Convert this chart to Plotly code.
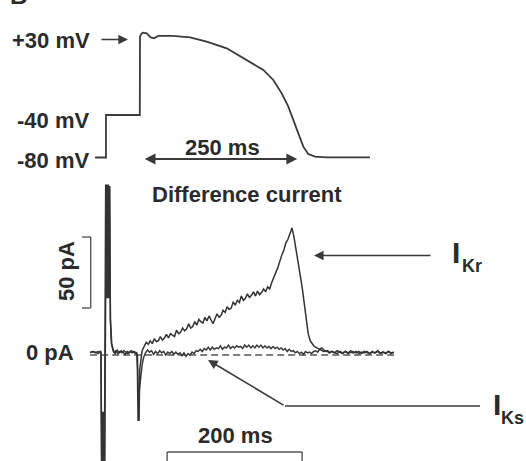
import plotly.graph_objects as go

W, H = 526, 461

# ---------------- Voltage protocol (top) : time in ms, voltage in mV
v_time = [-3.2, 14.6, 14.6, 69.5, 69.8, 72.0, 74.2, 80.7, 87.2, 92.5, 99.5, 123.4, 151.0,
          178.0, 210.6, 243.0, 270.0, 286.2, 299.8, 310.6, 318.7, 326.8, 334.9, 343.0,
          353.9, 372.9, 443.2]
v_mv = [-80, -80, -40, -40, 33.7, 36.5, 37.5, 36.9, 33.1, 32.2, 34.4, 34.4, 33.1,
        29.0, 22.8, 11.8, 2.4, -7.0, -19.6, -32.2, -44.7, -57.2, -69.8, -76.7,
        -79.2, -79.8, -79.8]

# ---------------- Difference currents (bottom): time in ms, current in pA
ikr_time = [-22, -18, -14, -10, -7, -6, -5, -4, -3, -2, -1, 0, 1, 2, 3, 4, 5, 6, 7, 8, 9.5,
            12, 15, 18, 21, 24, 27,
            30, 33, 36, 39, 42, 45, 47, 48, 49, 50.5, 51.5, 53, 55, 58, 61, 64, 67, 70,
            73, 76, 79, 82, 85, 88, 91, 94, 97, 100, 103, 106, 109, 112, 115, 118, 121,
            124, 127, 130, 133, 136, 139, 142, 145, 148, 151, 154, 157, 160, 163, 166,
            169, 172, 175, 178, 181, 184, 187, 190, 193, 196, 199, 202, 205, 208, 211,
            214, 217, 220, 223, 226, 229, 232, 235, 238, 241, 244, 247, 250, 253, 256,
            259, 262, 265, 268, 271, 274, 277, 280, 283, 286, 289, 292, 295, 298, 301,
            304, 307, 310, 314, 318, 321, 324, 328, 332, 336, 340, 344, 348, 352, 356,
            360, 364, 368, 372, 376, 380, 384, 388, 392, 396, 400, 404, 408, 412, 416,
            420, 424, 428]
ikr_pa = [2, 2.5, 1.5, 2.5, 2, 2, -95, -40, -95, -40, -95, 5, 120, 40, 120, 40, 120, 40, 119, 25, 8,
          3, 1, 3.5, 1.5, 3, 2,
          0.5, 2.5, 1.5, 3, 2, 1, 2, -10, -46, -46, -10, -2, 3, 6, 9, 7.5, 10, 8,
          11.5, 9.5, 10, 13, 10.5, 12, 14.5, 12, 15, 14, 13, 17.5, 15, 16, 19, 17, 18.5,
          22, 19, 20, 23.5, 21, 25, 23.5, 22.5, 26.5, 24, 27.5, 24.5, 22, 25.5, 29,
          26.5, 28, 31.5, 30, 34, 32, 33, 37.5, 35, 38.5, 37, 41.5, 38.5, 40, 43,
          40.5, 42, 44.5, 41.5, 45, 42.5, 44, 46.5, 44.5, 48, 46.5, 51, 54, 58, 61.5,
          67, 70.5, 74, 79, 81.5, 86, 89.5, 83, 75, 67, 58, 48, 37, 25, 15,
          10, 7.5, 6, 5, 4, 3, 2.5, 3, 1.5, 2.5, 1.5, 3, 2, 1, 2.5,
          1.5, 3, 2, 1.5, 2.5, 1, 2.5, 2, 1, 2.5, 1.5, 3, 1.5, 2, 1,
          2.5, 1.5, 2]

iks_time = [-22, -18, -14, -10, -7, -6, -4.5, -0.5, 0.5, 2, 6.5, 8, 10, 13, 16, 19, 22, 25,
            28, 31, 34, 37, 40, 43, 46, 48, 49.5, 51, 53, 55, 57, 60, 63, 66, 69, 72, 75,
            78, 81, 84, 87, 90, 93, 96, 99, 102, 105, 108, 111, 114, 117, 120, 123, 126,
            129, 132, 135, 138, 141, 144, 147, 150, 153, 156, 159, 162, 165, 168, 171,
            174, 177, 180, 183, 186, 189, 192, 195, 198, 201, 204, 207, 210, 213, 216,
            219, 222, 225, 228, 231, 234, 237, 240, 243, 246, 249, 252, 255, 258, 261,
            264, 267, 270, 273, 276, 279, 282, 285, 288, 291, 294, 297, 300, 303, 306,
            309, 312, 315, 318, 321, 324, 327, 330, 333, 336, 340, 344, 348, 352, 356,
            360, 364, 368, 372, 376, 380, 384, 388, 392, 396, 400, 404, 408, 412, 416,
            420, 424, 428]
iks_pa = [1.5, 2.5, 2, 1, 2.5, 2, -95, -95, 4, 118, 118, 25, 8, 2, 3, 1, 2.5, 1.5,
          3, 2, 1, 2.5, 1.5, 2.5, 1.5, 0, -32, -24, -14, -7, -2, 1.5, 3.5, 2, 3, 0.5, 2.5,
          1, 3, 1.5, 2.5, 0, 2, 1, 2.5, 0.5, 2, 0.5, 1.5, -0.5, 1.5, -1, 1, 0,
          2, 1, 3, 2.5, 4, 2.5, 4.5, 3.5, 5.5, 3.5, 5.5, 4, 5, 4.5, 6.5,
          4, 5.5, 5, 7, 4.5, 6, 5, 6.5, 5.5, 6, 4.5, 7, 5.5, 7, 5,
          6.5, 5, 7, 5.5, 7, 5, 6.5, 5, 6, 4.5, 6, 4.5, 5.5, 4, 5,
          3.5, 4.5, 2.5, 4, 2.5, 3, 1.5, 2.5, 1, 2, 0.5, 2.5, 1.5, 2, 1,
          2.5, 3, 2, 4, 5, 4, 2.5, 3, 1.5, 2.5, 2, 1, 2.5, 1.5, 2.5,
          1, 2, 1.5, 2.5, 1, 2, 1.5, 2.5, 1, 2, 1.5, 2.5, 1, 2, 1.5,
          2.5, 1, 2]

zero_time = [-22, 430]
zero_pa = [0, 0]

# scale bars (data units)
bar_pa = [33.1, 83.1]       # 50 pA
bar_ms = [92, 292]          # 200 ms
arrow_250 = [75, 325]       # 250 ms

labels_v = ["+30 mV", "-40 mV", "-80 mV"]

# ---------------- pixel calibration for the hidden axes
TX0, TXS = 97, 0.616        # top: px = TX0 + TXS*t
TV80, TVS = 157.5, 1.0625   # top: px = TV80 - (V+80)*TVS
BX0, BXS = 105, 0.675       # bottom
BY0, BYS = 355, 1.42

top_x_range = [-TX0 / TXS, (W - TX0) / TXS]
top_y_range = [(TV80 - H) / TVS - 80, TV80 / TVS - 80]
bot_x_range = [-BX0 / BXS, (W - BX0) / BXS]
bot_y_range = [(BY0 - H) / BYS, BY0 / BYS]


def px(x, y):
    return x / W, 1 - y / H


INK = "#2b2b2b"
LINE = "#3a3a3a"
FONT = "Liberation Sans, Arial, sans-serif"

fig = go.Figure()
fig.add_trace(go.Scatter(x=v_time, y=v_mv, mode="lines", xaxis="x", yaxis="y",
                         line=dict(color=LINE, width=1.8), hoverinfo="skip"))
fig.add_trace(go.Scatter(x=zero_time, y=zero_pa, mode="lines", xaxis="x2", yaxis="y2",
                         line=dict(color="#555555", width=1.4, dash="7px,4px"), hoverinfo="skip"))
fig.add_trace(go.Scatter(x=iks_time, y=iks_pa, mode="lines", xaxis="x2", yaxis="y2",
                         line=dict(color=LINE, width=1.5), hoverinfo="skip"))
fig.add_trace(go.Scatter(x=ikr_time, y=ikr_pa, mode="lines", xaxis="x2", yaxis="y2",
                         line=dict(color="#333333", width=1.5), hoverinfo="skip"))

shapes = []
# 50 pA bar
shapes.append(dict(type="line", xref="x2", yref="y2", x0=-21.2, x1=-21.2, y0=bar_pa[0], y1=bar_pa[1],
                   line=dict(color="#555", width=1.4)))
for yy in bar_pa:
    shapes.append(dict(type="line", xref="x2", yref="y2", x0=-34, x1=-21.2, y0=yy, y1=yy,
                       line=dict(color="#555", width=1.4)))
# 200 ms bar
shapes.append(dict(type="line", xref="x2", yref="y2", x0=bar_ms[0], x1=bar_ms[1], y0=-68.3, y1=-68.3,
                   line=dict(color="#555", width=1.4)))
for xx in bar_ms:
    shapes.append(dict(type="line", xref="x2", yref="y2", x0=xx, x1=xx, y0=-68.3, y1=-80,
                       line=dict(color="#555", width=1.4)))
# IKs pointer horizontal part
shapes.append(dict(type="line", xref="x2", yref="y2", x0=266.7, x1=555.6, y0=-35.9, y1=-35.9,
                   line=dict(color=LINE, width=1.6)))

ann = []


def text(s, x, y, size, xanchor="center", angle=0):
    px_, py_ = px(x, y)
    ann.append(dict(text=s, x=px_, y=py_, xref="paper", yref="paper", showarrow=False,
                    xanchor=xanchor, yanchor="middle", textangle=angle,
                    font=dict(family=FONT, size=size, color=INK)))


text("<b>B</b>", 18.5, -4.5, 24)
text("<b>" + labels_v[0] + "</b>", 92, 40, 22, "right")
text("<b>" + labels_v[1] + "</b>", 91, 120, 22, "right")
text("<b>" + labels_v[2] + "</b>", 91, 160, 22, "right")
text("<b>250 ms</b>", 222.5, 147.5, 22)
text("<b>Difference current</b>", 246.5, 194, 22)
text("<b>0 pA</b>", 76, 352, 22, "right")
text("<b>50 pA</b>", 66, 271, 22, angle=-90)
text("<b>200 ms</b>", 235, 435.5, 22)
text("<b>I</b>", 455.5, 252.5, 30)
text("<b>Kr</b>", 472, 266, 18)
text("<b>I</b>", 496.5, 404, 30)
text("<b>Ks</b>", 512.5, 417.5, 18)

# arrows
ann.append(dict(x=50.3, y=31.1, xref="x", yref="y", ax=-28, ay=0, showarrow=True,
                arrowhead=2, arrowsize=1.2, arrowwidth=1.6, arrowcolor=LINE, text=""))
ann.append(dict(x=arrow_250[1], y=-81.4, xref="x", yref="y", ax=arrow_250[0], ay=-81.4,
                axref="x", ayref="y", showarrow=True, arrowside="end+start",
                arrowhead=2, arrowsize=1.2, arrowwidth=1.8, arrowcolor=LINE, text=""))
ann.append(dict(x=309.6, y=70.1, xref="x2", yref="y2", ax=484.4, ay=70.1,
                axref="x2", ayref="y2", showarrow=True,
                arrowhead=2, arrowsize=1.2, arrowwidth=1.6, arrowcolor=LINE, text=""))
ann.append(dict(x=152.6, y=-3.5, xref="x2", yref="y2", ax=266.7, ay=-35.9,
                axref="x2", ayref="y2", showarrow=True,
                arrowhead=2, arrowsize=1.2, arrowwidth=1.6, arrowcolor=LINE, text=""))

hidden = dict(visible=False, showgrid=False, zeroline=False, fixedrange=True)
fig.update_layout(
    width=W, height=H, margin=dict(l=0, r=0, t=0, b=0),
    paper_bgcolor="white", plot_bgcolor="white", showlegend=False,
    xaxis=dict(range=top_x_range, domain=[0, 1], **hidden),
    yaxis=dict(range=top_y_range, domain=[0, 1], **hidden),
    xaxis2=dict(range=bot_x_range, domain=[0, 1], overlaying="x", anchor="y2", **hidden),
    yaxis2=dict(range=bot_y_range, domain=[0, 1], overlaying="y", anchor="x2", **hidden),
    shapes=shapes, annotations=ann,
)
fig.write_html("out.html")
